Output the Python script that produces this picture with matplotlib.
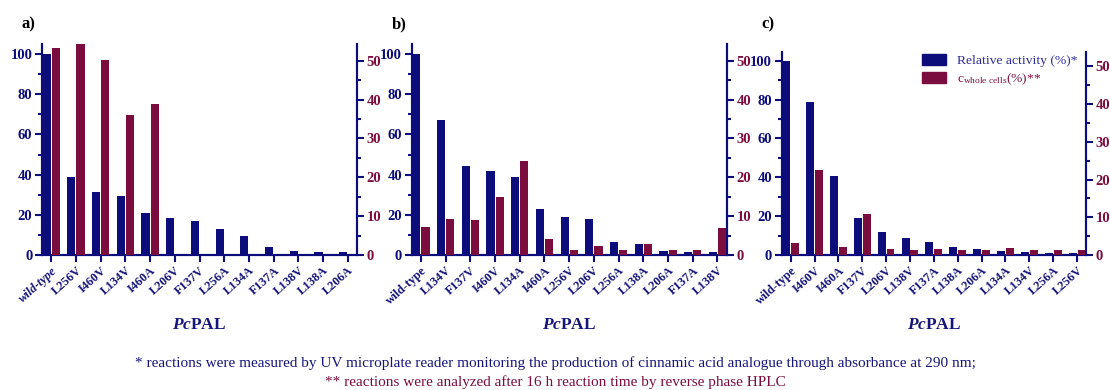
import matplotlib
matplotlib.use("Agg")
import matplotlib.pyplot as plt
import numpy as np
from matplotlib.ticker import MultipleLocator
from matplotlib.patches import Patch

plt.rcParams['font.family'] = ['Liberation Serif', 'DejaVu Serif']
plt.rcParams['mathtext.fontset'] = 'custom'
plt.rcParams['mathtext.rm'] = 'Liberation Serif'
plt.rcParams['mathtext.it'] = 'Liberation Serif:italic'
plt.rcParams['mathtext.bf'] = 'Liberation Serif:bold'
plt.rcParams['mathtext.bfit'] = 'Liberation Serif:bold:italic'

# ---- data ----
cats_a = ["wild-type", "L256V", "I460V", "L134V", "I460A", "L206V", "F137V",
          "L256A", "L134A", "F137A", "L138V", "L138A", "L206A"]
act_a = [100, 39, 31.5, 29.4, 20.7, 18.2, 16.8, 12.8, 9.7, 3.8, 2.0, 1.3, 1.3]
conv_a = [53.3, 54.3, 50.3, 35.9, 38.9, 0, 0, 0, 0, 0, 0, 0, 0]

cats_b = ["wild-type", "L134V", "F137V", "I460V", "L134A", "I460A", "L256V",
          "L206V", "L256A", "L138A", "L206A", "F137A", "L138V"]
act_b = [100, 67.2, 44.3, 41.9, 38.6, 22.9, 18.7, 17.8, 6.5, 5.5, 1.8, 1.3, 1.3]
conv_b = [7.3, 9.3, 9.0, 15.0, 24.1, 4.2, 1.3, 2.3, 1.3, 2.8, 1.3, 1.3, 7.0]

cats_c = ["wild-type", "I460V", "I460A", "F137V", "L206V", "L138V", "F137A",
          "L138A", "L206A", "L134A", "L134V", "L256A", "L256V"]
act_c = [100, 78.9, 40.7, 18.9, 12.0, 8.9, 6.8, 4.3, 2.9, 2.1, 1.7, 1.2, 1.2]
conv_c = [3.3, 22.4, 2.1, 10.9, 1.7, 1.4, 1.7, 1.2, 1.2, 1.9, 1.2, 1.2, 1.2]

panel_labels = ["a)", "b)", "c)"]

BLUE = '#0c0c7a'
RED = '#7a0c3e'
TXTBLUE = '#15157a'

W, H = 1110, 390
fig = plt.figure(figsize=(W / 100, H / 100), dpi=100)


def px_axes(x0, x1, y0, y1):
    return fig.add_axes([x0 / W, 1 - y1 / H, (x1 - x0) / W, (y1 - y0) / H])


boxes = [(42, 357, 44, 255), (411.7, 726.7, 44, 255), (781.7, 1086, 52, 255)]
ylims = [(105, 54.3), (105, 54.3), (104.5, 53.8)]
datasets = [(cats_a, act_a, conv_a), (cats_b, act_b, conv_b), (cats_c, act_c, conv_c)]

bw = 0.33
off = 0.185
for i, (box, yl, (cats, act, conv)) in enumerate(zip(boxes, ylims, datasets)):
    ax = px_axes(*box)
    ax2 = ax.twinx()
    x = np.arange(len(cats))
    ax.bar(x - off, act, width=bw, color=BLUE, zorder=3)
    ax2.bar(x + off, conv, width=bw, color=RED, zorder=3)
    ax.set_xlim(-0.376, len(cats) - 1 + 0.376)
    ax.set_ylim(0, yl[0])
    ax2.set_ylim(0, yl[1])
    for a in (ax, ax2):
        a.spines['top'].set_visible(False)
        for s in ('left', 'right', 'bottom'):
            a.spines[s].set_color(BLUE)
            a.spines[s].set_linewidth(1.5)
    ax.yaxis.set_major_locator(MultipleLocator(20))
    ax.yaxis.set_minor_locator(MultipleLocator(10))
    ax2.yaxis.set_major_locator(MultipleLocator(10))
    ax2.yaxis.set_minor_locator(MultipleLocator(5))
    ax.tick_params(axis='y', which='major', length=5, width=1.5, color=BLUE,
                   labelcolor=BLUE, labelsize=10.5, pad=2)
    ax.tick_params(axis='y', which='minor', length=3, width=1.5, color=BLUE)
    ax2.tick_params(axis='y', which='major', length=5, width=1.5, color=BLUE,
                    labelcolor=RED, labelsize=10.5, pad=2)
    ax2.tick_params(axis='y', which='minor', length=3, width=1.5, color=BLUE)
    for lab in ax.get_yticklabels() + ax2.get_yticklabels():
        lab.set_fontweight('bold')
    ax.set_xticks(x)
    ax.set_xticklabels(cats, rotation=42, ha='right', rotation_mode='anchor',
                       fontsize=9, fontweight='bold', color=TXTBLUE)
    if i == 0:
        ax.get_xticklabels()[0].set_fontstyle('italic')
    ax.tick_params(axis='x', length=5, width=1.5, color=BLUE, pad=2)
    ax2.tick_params(axis='x', bottom=False)
    cx = (box[0] + box[1]) / 2
    fig.text(cx / W, 1 - 325 / H, r'$\mathbfit{Pc}$PAL', ha='center', va='center',
             fontsize=12.5, fontweight='bold', color=TXTBLUE)
    fig.text((box[0] - 20) / W, 1 - 24 / H, panel_labels[i], ha='left', va='center',
             fontsize=12, fontweight='bold', color='black')
    if i == 2:
        handles = [Patch(color=BLUE), Patch(color=RED)]
        leg = ax.legend(handles, ['Relative activity (%)*',
                                  r'c$_{\mathrm{whole\ cells}}$(%)**'],
                        loc='upper right', bbox_to_anchor=(1.0, 1.03),
                        frameon=False, fontsize=9.7, handlelength=1.8,
                        handleheight=0.9, handletextpad=0.85, labelspacing=0.3,
                        borderaxespad=0.2)
        leg.get_texts()[0].set_color('#2a2a9a')
        leg.get_texts()[1].set_color(RED)

fig.text(0.5, 1 - 363 / H,
         '* reactions were measured by UV microplate reader monitoring the production of '
         'cinnamic acid analogue through absorbance at 290 nm;',
         ha='center', va='center', fontsize=11, color=TXTBLUE)
fig.text(0.5, 1 - 382 / H,
         '** reactions were analyzed after 16 h reaction time by reverse phase HPLC',
         ha='center', va='center', fontsize=11, color=RED)

fig.savefig('out.png', dpi=100)
